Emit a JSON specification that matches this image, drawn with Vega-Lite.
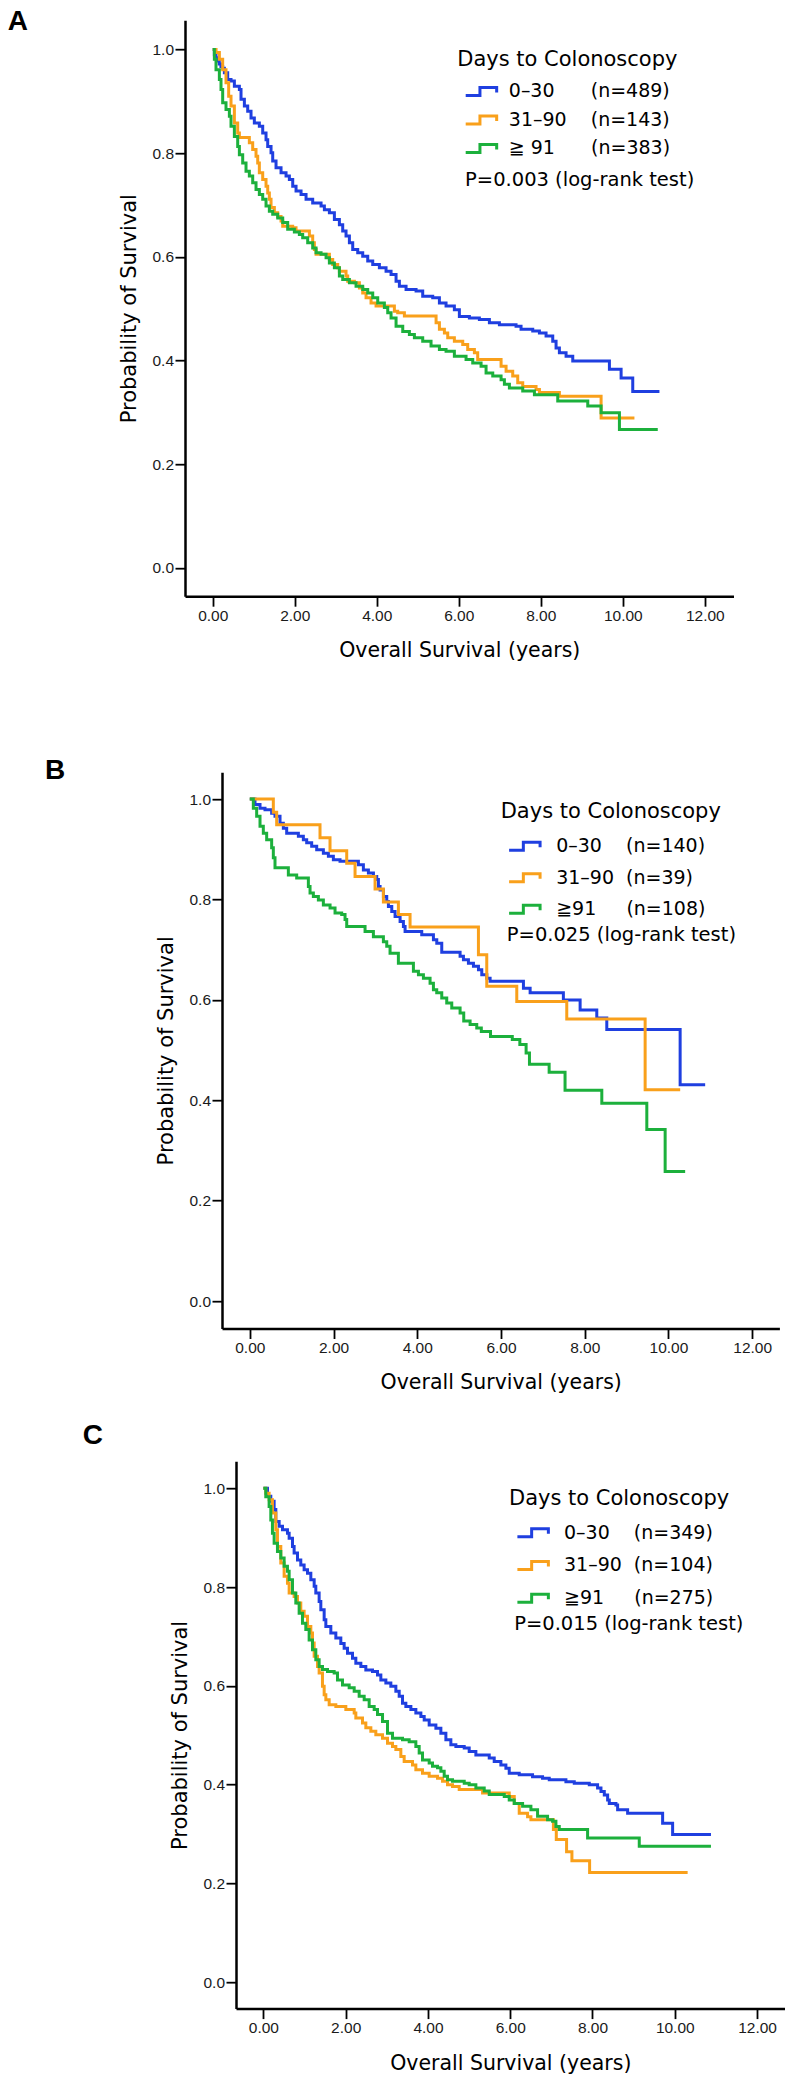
{
  "$schema": "https://vega.github.io/schema/vega-lite/v6.json",
  "padding": {"left": 0, "top": 7.2, "right": 0, "bottom": 0},
  "background": "white",
  "spacing": 0,
  "resolve": {"scale": {"color": "independent"}, "legend": {"color": "independent"}},
  "config": {
    "view": {"stroke": null},
    "concat": {"spacing": 0},
    "axis": {"grid": false, "domainColor": "#000", "domainWidth": 2.5, "tickColor": "#000", "tickWidth": 1.8, "tickSize": 10, "labelFont": "Liberation Sans", "labelFontSize": 15.5, "labelColor": "#1a1a1a", "titleFont": "DejaVu Sans", "titleFontWeight": "normal", "titleColor": "#000", "labelFlush": false, "labelOverlap": false},
    "axisX": {"labelPadding": 2, "titleFontSize": 20.5, "titlePadding": 17},
    "axisY": {"labelPadding": 1.5, "titleFontSize": 21, "titlePadding": 12},
    "legend": {"orient": "none", "direction": "vertical", "padding": 0, "titleFont": "DejaVu Sans", "titleFontSize": 21, "titleFontWeight": "normal", "titleColor": "#000", "labelFont": "DejaVu Sans", "labelFontSize": 19, "labelColor": "#000", "labelLimit": 400, "titleLimit": 400, "symbolType": "M-0.343,0.38H1.014V-0.38H2.607V0.1", "symbolSize": 441, "symbolStrokeWidth": 3, "symbolFillColor": "transparent"}
  },
  "datasets": {
    "A": [
      {"g":"0–30","t":0,"s":1},{"g":"0–30","t":0.04,"s":0.99},{"g":"0–30","t":0.08,"s":0.984},{"g":"0–30","t":0.12,"s":0.978},{"g":"0–30","t":0.16,"s":0.972},{"g":"0–30","t":0.2,"s":0.967},{"g":"0–30","t":0.243,"s":0.964},{"g":"0–30","t":0.284,"s":0.955},{"g":"0–30","t":0.365,"s":0.942},{"g":"0–30","t":0.446,"s":0.939},{"g":"0–30","t":0.528,"s":0.929},{"g":"0–30","t":0.65,"s":0.923},{"g":"0–30","t":0.69,"s":0.904},{"g":"0–30","t":0.772,"s":0.891},{"g":"0–30","t":0.853,"s":0.881},{"g":"0–30","t":0.934,"s":0.868},{"g":"0–30","t":1.015,"s":0.858},{"g":"0–30","t":1.137,"s":0.852},{"g":"0–30","t":1.219,"s":0.839},{"g":"0–30","t":1.3,"s":0.826},{"g":"0–30","t":1.341,"s":0.813},{"g":"0–30","t":1.422,"s":0.801},{"g":"0–30","t":1.463,"s":0.785},{"g":"0–30","t":1.544,"s":0.772},{"g":"0–30","t":1.666,"s":0.762},{"g":"0–30","t":1.788,"s":0.756},{"g":"0–30","t":1.869,"s":0.749},{"g":"0–30","t":1.951,"s":0.736},{"g":"0–30","t":2.032,"s":0.727},{"g":"0–30","t":2.154,"s":0.72},{"g":"0–30","t":2.276,"s":0.711},{"g":"0–30","t":2.438,"s":0.704},{"g":"0–30","t":2.642,"s":0.698},{"g":"0–30","t":2.723,"s":0.691},{"g":"0–30","t":2.845,"s":0.685},{"g":"0–30","t":2.967,"s":0.672},{"g":"0–30","t":3.089,"s":0.662},{"g":"0–30","t":3.17,"s":0.65},{"g":"0–30","t":3.251,"s":0.64},{"g":"0–30","t":3.333,"s":0.627},{"g":"0–30","t":3.414,"s":0.614},{"g":"0–30","t":3.536,"s":0.608},{"g":"0–30","t":3.658,"s":0.601},{"g":"0–30","t":3.78,"s":0.592},{"g":"0–30","t":3.902,"s":0.585},{"g":"0–30","t":4.064,"s":0.579},{"g":"0–30","t":4.227,"s":0.572},{"g":"0–30","t":4.349,"s":0.566},{"g":"0–30","t":4.471,"s":0.553},{"g":"0–30","t":4.552,"s":0.543},{"g":"0–30","t":4.715,"s":0.537},{"g":"0–30","t":4.959,"s":0.534},{"g":"0–30","t":5.121,"s":0.524},{"g":"0–30","t":5.365,"s":0.521},{"g":"0–30","t":5.528,"s":0.511},{"g":"0–30","t":5.69,"s":0.505},{"g":"0–30","t":5.893,"s":0.498},{"g":"0–30","t":6.015,"s":0.485},{"g":"0–30","t":6.259,"s":0.482},{"g":"0–30","t":6.503,"s":0.479},{"g":"0–30","t":6.747,"s":0.473},{"g":"0–30","t":6.991,"s":0.469},{"g":"0–30","t":7.397,"s":0.466},{"g":"0–30","t":7.519,"s":0.46},{"g":"0–30","t":7.804,"s":0.457},{"g":"0–30","t":7.967,"s":0.453},{"g":"0–30","t":8.129,"s":0.447},{"g":"0–30","t":8.292,"s":0.437},{"g":"0–30","t":8.373,"s":0.424},{"g":"0–30","t":8.454,"s":0.415},{"g":"0–30","t":8.617,"s":0.408},{"g":"0–30","t":8.78,"s":0.399},{"g":"0–30","t":9.674,"s":0.383},{"g":"0–30","t":9.959,"s":0.366},{"g":"0–30","t":10.243,"s":0.34},{"g":"0–30","t":10.894,"s":0.34},
      {"g":"31–90","t":0,"s":1},{"g":"31–90","t":0.081,"s":0.994},{"g":"31–90","t":0.162,"s":0.981},{"g":"31–90","t":0.243,"s":0.961},{"g":"31–90","t":0.324,"s":0.936},{"g":"31–90","t":0.389,"s":0.91},{"g":"31–90","t":0.446,"s":0.891},{"g":"31–90","t":0.528,"s":0.858},{"g":"31–90","t":0.609,"s":0.839},{"g":"31–90","t":0.65,"s":0.83},{"g":"31–90","t":0.893,"s":0.82},{"g":"31–90","t":0.975,"s":0.807},{"g":"31–90","t":1.056,"s":0.794},{"g":"31–90","t":1.097,"s":0.781},{"g":"31–90","t":1.137,"s":0.762},{"g":"31–90","t":1.219,"s":0.749},{"g":"31–90","t":1.3,"s":0.736},{"g":"31–90","t":1.341,"s":0.723},{"g":"31–90","t":1.381,"s":0.711},{"g":"31–90","t":1.422,"s":0.695},{"g":"31–90","t":1.503,"s":0.685},{"g":"31–90","t":1.585,"s":0.678},{"g":"31–90","t":1.666,"s":0.669},{"g":"31–90","t":1.707,"s":0.659},{"g":"31–90","t":1.95,"s":0.656},{"g":"31–90","t":2.032,"s":0.65},{"g":"31–90","t":2.357,"s":0.64},{"g":"31–90","t":2.438,"s":0.627},{"g":"31–90","t":2.479,"s":0.614},{"g":"31–90","t":2.52,"s":0.605},{"g":"31–90","t":2.845,"s":0.595},{"g":"31–90","t":2.926,"s":0.585},{"g":"31–90","t":3.048,"s":0.579},{"g":"31–90","t":3.089,"s":0.572},{"g":"31–90","t":3.251,"s":0.563},{"g":"31–90","t":3.292,"s":0.553},{"g":"31–90","t":3.455,"s":0.55},{"g":"31–90","t":3.577,"s":0.54},{"g":"31–90","t":3.658,"s":0.53},{"g":"31–90","t":3.739,"s":0.521},{"g":"31–90","t":3.861,"s":0.511},{"g":"31–90","t":3.983,"s":0.505},{"g":"31–90","t":4.43,"s":0.495},{"g":"31–90","t":4.511,"s":0.492},{"g":"31–90","t":4.674,"s":0.486},{"g":"31–90","t":5.447,"s":0.473},{"g":"31–90","t":5.528,"s":0.46},{"g":"31–90","t":5.65,"s":0.453},{"g":"31–90","t":5.731,"s":0.444},{"g":"31–90","t":5.893,"s":0.437},{"g":"31–90","t":6.097,"s":0.431},{"g":"31–90","t":6.218,"s":0.421},{"g":"31–90","t":6.381,"s":0.415},{"g":"31–90","t":6.462,"s":0.402},{"g":"31–90","t":7.032,"s":0.389},{"g":"31–90","t":7.154,"s":0.379},{"g":"31–90","t":7.316,"s":0.37},{"g":"31–90","t":7.438,"s":0.357},{"g":"31–90","t":7.56,"s":0.35},{"g":"31–90","t":7.885,"s":0.344},{"g":"31–90","t":7.967,"s":0.338},{"g":"31–90","t":8.454,"s":0.331},{"g":"31–90","t":9.471,"s":0.289},{"g":"31–90","t":10.284,"s":0.289},
      {"g":"≧91","t":0,"s":1},{"g":"≧91","t":0.04,"s":0.981},{"g":"≧91","t":0.08,"s":0.961},{"g":"≧91","t":0.162,"s":0.942},{"g":"≧91","t":0.202,"s":0.923},{"g":"≧91","t":0.243,"s":0.897},{"g":"≧91","t":0.324,"s":0.884},{"g":"≧91","t":0.406,"s":0.871},{"g":"≧91","t":0.446,"s":0.852},{"g":"≧91","t":0.528,"s":0.832},{"g":"≧91","t":0.609,"s":0.813},{"g":"≧91","t":0.65,"s":0.797},{"g":"≧91","t":0.731,"s":0.781},{"g":"≧91","t":0.812,"s":0.765},{"g":"≧91","t":0.893,"s":0.756},{"g":"≧91","t":0.975,"s":0.743},{"g":"≧91","t":1.056,"s":0.73},{"g":"≧91","t":1.137,"s":0.72},{"g":"≧91","t":1.219,"s":0.711},{"g":"≧91","t":1.3,"s":0.698},{"g":"≧91","t":1.381,"s":0.688},{"g":"≧91","t":1.463,"s":0.682},{"g":"≧91","t":1.585,"s":0.675},{"g":"≧91","t":1.707,"s":0.666},{"g":"≧91","t":1.828,"s":0.653},{"g":"≧91","t":1.991,"s":0.648},{"g":"≧91","t":2.113,"s":0.643},{"g":"≧91","t":2.194,"s":0.637},{"g":"≧91","t":2.316,"s":0.627},{"g":"≧91","t":2.438,"s":0.617},{"g":"≧91","t":2.52,"s":0.608},{"g":"≧91","t":2.642,"s":0.605},{"g":"≧91","t":2.764,"s":0.598},{"g":"≧91","t":2.845,"s":0.588},{"g":"≧91","t":2.967,"s":0.579},{"g":"≧91","t":3.089,"s":0.563},{"g":"≧91","t":3.17,"s":0.556},{"g":"≧91","t":3.333,"s":0.55},{"g":"≧91","t":3.495,"s":0.543},{"g":"≧91","t":3.658,"s":0.537},{"g":"≧91","t":3.78,"s":0.53},{"g":"≧91","t":3.902,"s":0.521},{"g":"≧91","t":4.024,"s":0.511},{"g":"≧91","t":4.186,"s":0.502},{"g":"≧91","t":4.268,"s":0.492},{"g":"≧91","t":4.349,"s":0.482},{"g":"≧91","t":4.471,"s":0.466},{"g":"≧91","t":4.634,"s":0.456},{"g":"≧91","t":4.796,"s":0.45},{"g":"≧91","t":4.918,"s":0.444},{"g":"≧91","t":5.121,"s":0.437},{"g":"≧91","t":5.324,"s":0.428},{"g":"≧91","t":5.528,"s":0.421},{"g":"≧91","t":5.69,"s":0.418},{"g":"≧91","t":5.893,"s":0.408},{"g":"≧91","t":6.178,"s":0.402},{"g":"≧91","t":6.341,"s":0.395},{"g":"≧91","t":6.544,"s":0.389},{"g":"≧91","t":6.666,"s":0.376},{"g":"≧91","t":6.829,"s":0.37},{"g":"≧91","t":7.032,"s":0.363},{"g":"≧91","t":7.113,"s":0.354},{"g":"≧91","t":7.235,"s":0.347},{"g":"≧91","t":7.56,"s":0.341},{"g":"≧91","t":7.845,"s":0.334},{"g":"≧91","t":8.414,"s":0.322},{"g":"≧91","t":9.146,"s":0.312},{"g":"≧91","t":9.471,"s":0.299},{"g":"≧91","t":9.918,"s":0.267},{"g":"≧91","t":10.853,"s":0.267}
    ],
    "B": [
      {"g":"0–30","t":0,"s":1},{"g":"0–30","t":0.124,"s":0.989},{"g":"0–30","t":0.244,"s":0.982},{"g":"0–30","t":0.363,"s":0.979},{"g":"0–30","t":0.522,"s":0.972},{"g":"0–30","t":0.602,"s":0.966},{"g":"0–30","t":0.722,"s":0.952},{"g":"0–30","t":0.801,"s":0.942},{"g":"0–30","t":0.881,"s":0.932},{"g":"0–30","t":1.16,"s":0.926},{"g":"0–30","t":1.279,"s":0.919},{"g":"0–30","t":1.359,"s":0.913},{"g":"0–30","t":1.478,"s":0.906},{"g":"0–30","t":1.598,"s":0.899},{"g":"0–30","t":1.757,"s":0.892},{"g":"0–30","t":1.877,"s":0.886},{"g":"0–30","t":1.996,"s":0.879},{"g":"0–30","t":2.155,"s":0.876},{"g":"0–30","t":2.594,"s":0.869},{"g":"0–30","t":2.713,"s":0.859},{"g":"0–30","t":2.833,"s":0.853},{"g":"0–30","t":2.953,"s":0.846},{"g":"0–30","t":3.032,"s":0.84},{"g":"0–30","t":3.072,"s":0.826},{"g":"0–30","t":3.112,"s":0.819},{"g":"0–30","t":3.192,"s":0.806},{"g":"0–30","t":3.271,"s":0.796},{"g":"0–30","t":3.311,"s":0.786},{"g":"0–30","t":3.391,"s":0.776},{"g":"0–30","t":3.47,"s":0.766},{"g":"0–30","t":3.59,"s":0.756},{"g":"0–30","t":3.669,"s":0.746},{"g":"0–30","t":3.709,"s":0.736},{"g":"0–30","t":4.107,"s":0.73},{"g":"0–30","t":4.386,"s":0.72},{"g":"0–30","t":4.466,"s":0.713},{"g":"0–30","t":4.585,"s":0.695},{"g":"0–30","t":5.023,"s":0.687},{"g":"0–30","t":5.103,"s":0.68},{"g":"0–30","t":5.222,"s":0.673},{"g":"0–30","t":5.342,"s":0.667},{"g":"0–30","t":5.462,"s":0.66},{"g":"0–30","t":5.541,"s":0.65},{"g":"0–30","t":5.661,"s":0.643},{"g":"0–30","t":5.74,"s":0.637},{"g":"0–30","t":6.536,"s":0.623},{"g":"0–30","t":6.696,"s":0.614},{"g":"0–30","t":7.49,"s":0.6},{"g":"0–30","t":7.89,"s":0.58},{"g":"0–30","t":8.288,"s":0.564},{"g":"0–30","t":8.527,"s":0.541},{"g":"0–30","t":10.279,"s":0.431},{"g":"0–30","t":10.877,"s":0.431},
      {"g":"31–90","t":0,"s":1},{"g":"31–90","t":0.562,"s":0.974},{"g":"31–90","t":0.642,"s":0.949},{"g":"31–90","t":1.677,"s":0.923},{"g":"31–90","t":1.916,"s":0.897},{"g":"31–90","t":2.315,"s":0.872},{"g":"31–90","t":2.514,"s":0.846},{"g":"31–90","t":2.992,"s":0.821},{"g":"31–90","t":3.191,"s":0.795},{"g":"31–90","t":3.549,"s":0.77},{"g":"31–90","t":3.828,"s":0.745},{"g":"31–90","t":5.461,"s":0.69},{"g":"31–90","t":5.66,"s":0.627},{"g":"31–90","t":6.377,"s":0.597},{"g":"31–90","t":7.571,"s":0.562},{"g":"31–90","t":9.443,"s":0.421},{"g":"31–90","t":10.28,"s":0.421},
      {"g":"≧91","t":0,"s":1},{"g":"≧91","t":0.084,"s":0.982},{"g":"≧91","t":0.164,"s":0.966},{"g":"≧91","t":0.244,"s":0.946},{"g":"≧91","t":0.323,"s":0.932},{"g":"≧91","t":0.403,"s":0.919},{"g":"≧91","t":0.522,"s":0.903},{"g":"≧91","t":0.562,"s":0.883},{"g":"≧91","t":0.602,"s":0.863},{"g":"≧91","t":0.921,"s":0.849},{"g":"≧91","t":1.12,"s":0.843},{"g":"≧91","t":1.399,"s":0.826},{"g":"≧91","t":1.439,"s":0.813},{"g":"≧91","t":1.518,"s":0.806},{"g":"≧91","t":1.638,"s":0.799},{"g":"≧91","t":1.757,"s":0.789},{"g":"≧91","t":1.917,"s":0.783},{"g":"≧91","t":2.036,"s":0.773},{"g":"≧91","t":2.195,"s":0.77},{"g":"≧91","t":2.275,"s":0.76},{"g":"≧91","t":2.315,"s":0.746},{"g":"≧91","t":2.753,"s":0.736},{"g":"≧91","t":2.952,"s":0.726},{"g":"≧91","t":3.191,"s":0.716},{"g":"≧91","t":3.271,"s":0.707},{"g":"≧91","t":3.35,"s":0.693},{"g":"≧91","t":3.549,"s":0.673},{"g":"≧91","t":3.908,"s":0.657},{"g":"≧91","t":4.028,"s":0.65},{"g":"≧91","t":4.147,"s":0.643},{"g":"≧91","t":4.306,"s":0.633},{"g":"≧91","t":4.386,"s":0.62},{"g":"≧91","t":4.465,"s":0.614},{"g":"≧91","t":4.585,"s":0.604},{"g":"≧91","t":4.704,"s":0.594},{"g":"≧91","t":4.824,"s":0.584},{"g":"≧91","t":5.023,"s":0.574},{"g":"≧91","t":5.11,"s":0.558},{"g":"≧91","t":5.262,"s":0.551},{"g":"≧91","t":5.421,"s":0.544},{"g":"≧91","t":5.53,"s":0.537},{"g":"≧91","t":5.75,"s":0.527},{"g":"≧91","t":6.27,"s":0.521},{"g":"≧91","t":6.45,"s":0.511},{"g":"≧91","t":6.6,"s":0.494},{"g":"≧91","t":6.68,"s":0.472},{"g":"≧91","t":7.15,"s":0.456},{"g":"≧91","t":7.53,"s":0.42},{"g":"≧91","t":8.408,"s":0.394},{"g":"≧91","t":9.483,"s":0.342},{"g":"≧91","t":9.921,"s":0.258},{"g":"≧91","t":10.399,"s":0.258}
    ],
    "C": [
      {"g":"0–30","t":0,"s":1},{"g":"0–30","t":0.099,"s":0.984},{"g":"0–30","t":0.18,"s":0.974},{"g":"0–30","t":0.261,"s":0.957},{"g":"0–30","t":0.302,"s":0.933},{"g":"0–30","t":0.383,"s":0.923},{"g":"0–30","t":0.464,"s":0.916},{"g":"0–30","t":0.585,"s":0.909},{"g":"0–30","t":0.626,"s":0.899},{"g":"0–30","t":0.707,"s":0.882},{"g":"0–30","t":0.747,"s":0.869},{"g":"0–30","t":0.829,"s":0.855},{"g":"0–30","t":0.909,"s":0.845},{"g":"0–30","t":0.99,"s":0.835},{"g":"0–30","t":1.072,"s":0.828},{"g":"0–30","t":1.153,"s":0.815},{"g":"0–30","t":1.234,"s":0.802},{"g":"0–30","t":1.274,"s":0.788},{"g":"0–30","t":1.355,"s":0.771},{"g":"0–30","t":1.396,"s":0.754},{"g":"0–30","t":1.477,"s":0.734},{"g":"0–30","t":1.518,"s":0.72},{"g":"0–30","t":1.639,"s":0.707},{"g":"0–30","t":1.761,"s":0.697},{"g":"0–30","t":1.882,"s":0.686},{"g":"0–30","t":1.963,"s":0.676},{"g":"0–30","t":2.044,"s":0.666},{"g":"0–30","t":2.166,"s":0.656},{"g":"0–30","t":2.247,"s":0.646},{"g":"0–30","t":2.369,"s":0.639},{"g":"0–30","t":2.49,"s":0.632},{"g":"0–30","t":2.652,"s":0.629},{"g":"0–30","t":2.774,"s":0.622},{"g":"0–30","t":2.855,"s":0.612},{"g":"0–30","t":2.977,"s":0.606},{"g":"0–30","t":3.098,"s":0.599},{"g":"0–30","t":3.22,"s":0.589},{"g":"0–30","t":3.301,"s":0.579},{"g":"0–30","t":3.382,"s":0.565},{"g":"0–30","t":3.463,"s":0.558},{"g":"0–30","t":3.585,"s":0.552},{"g":"0–30","t":3.706,"s":0.545},{"g":"0–30","t":3.828,"s":0.538},{"g":"0–30","t":3.909,"s":0.531},{"g":"0–30","t":4.03,"s":0.521},{"g":"0–30","t":4.193,"s":0.514},{"g":"0–30","t":4.314,"s":0.504},{"g":"0–30","t":4.436,"s":0.491},{"g":"0–30","t":4.557,"s":0.481},{"g":"0–30","t":4.679,"s":0.477},{"g":"0–30","t":4.882,"s":0.474},{"g":"0–30","t":5.003,"s":0.467},{"g":"0–30","t":5.165,"s":0.46},{"g":"0–30","t":5.49,"s":0.454},{"g":"0–30","t":5.611,"s":0.447},{"g":"0–30","t":5.773,"s":0.44},{"g":"0–30","t":5.895,"s":0.433},{"g":"0–30","t":5.976,"s":0.423},{"g":"0–30","t":6.219,"s":0.42},{"g":"0–30","t":6.543,"s":0.416},{"g":"0–30","t":6.786,"s":0.413},{"g":"0–30","t":6.949,"s":0.41},{"g":"0–30","t":7.354,"s":0.406},{"g":"0–30","t":7.557,"s":0.403},{"g":"0–30","t":7.922,"s":0.4},{"g":"0–30","t":8.124,"s":0.393},{"g":"0–30","t":8.206,"s":0.386},{"g":"0–30","t":8.287,"s":0.379},{"g":"0–30","t":8.368,"s":0.369},{"g":"0–30","t":8.408,"s":0.362},{"g":"0–30","t":8.57,"s":0.359},{"g":"0–30","t":8.611,"s":0.349},{"g":"0–30","t":8.854,"s":0.342},{"g":"0–30","t":9.705,"s":0.322},{"g":"0–30","t":9.948,"s":0.299},{"g":"0–30","t":10.88,"s":0.299},
      {"g":"31–90","t":0,"s":1},{"g":"31–90","t":0.058,"s":0.99},{"g":"31–90","t":0.139,"s":0.977},{"g":"31–90","t":0.22,"s":0.95},{"g":"31–90","t":0.302,"s":0.916},{"g":"31–90","t":0.342,"s":0.882},{"g":"31–90","t":0.423,"s":0.849},{"g":"31–90","t":0.504,"s":0.822},{"g":"31–90","t":0.585,"s":0.808},{"g":"31–90","t":0.626,"s":0.788},{"g":"31–90","t":0.747,"s":0.781},{"g":"31–90","t":0.829,"s":0.768},{"g":"31–90","t":0.909,"s":0.751},{"g":"31–90","t":0.99,"s":0.741},{"g":"31–90","t":1.072,"s":0.72},{"g":"31–90","t":1.153,"s":0.707},{"g":"31–90","t":1.193,"s":0.687},{"g":"31–90","t":1.234,"s":0.66},{"g":"31–90","t":1.315,"s":0.639},{"g":"31–90","t":1.355,"s":0.626},{"g":"31–90","t":1.436,"s":0.599},{"g":"31–90","t":1.477,"s":0.582},{"g":"31–90","t":1.518,"s":0.572},{"g":"31–90","t":1.599,"s":0.562},{"g":"31–90","t":1.761,"s":0.558},{"g":"31–90","t":2.004,"s":0.552},{"g":"31–90","t":2.207,"s":0.545},{"g":"31–90","t":2.247,"s":0.535},{"g":"31–90","t":2.409,"s":0.525},{"g":"31–90","t":2.49,"s":0.515},{"g":"31–90","t":2.612,"s":0.508},{"g":"31–90","t":2.733,"s":0.501},{"g":"31–90","t":2.896,"s":0.494},{"g":"31–90","t":3.017,"s":0.484},{"g":"31–90","t":3.139,"s":0.477},{"g":"31–90","t":3.22,"s":0.471},{"g":"31–90","t":3.341,"s":0.457},{"g":"31–90","t":3.422,"s":0.447},{"g":"31–90","t":3.625,"s":0.44},{"g":"31–90","t":3.706,"s":0.43},{"g":"31–90","t":3.868,"s":0.423},{"g":"31–90","t":4.03,"s":0.417},{"g":"31–90","t":4.233,"s":0.413},{"g":"31–90","t":4.355,"s":0.407},{"g":"31–90","t":4.476,"s":0.4},{"g":"31–90","t":4.598,"s":0.396},{"g":"31–90","t":4.76,"s":0.39},{"g":"31–90","t":5.328,"s":0.383},{"g":"31–90","t":5.976,"s":0.376},{"g":"31–90","t":6.098,"s":0.362},{"g":"31–90","t":6.219,"s":0.342},{"g":"31–90","t":6.422,"s":0.335},{"g":"31–90","t":6.503,"s":0.329},{"g":"31–90","t":7.05,"s":0.309},{"g":"31–90","t":7.12,"s":0.289},{"g":"31–90","t":7.37,"s":0.264},{"g":"31–90","t":7.5,"s":0.246},{"g":"31–90","t":7.93,"s":0.222},{"g":"31–90","t":10.313,"s":0.222},
      {"g":"≧91","t":0,"s":1},{"g":"≧91","t":0.058,"s":0.983},{"g":"≧91","t":0.139,"s":0.963},{"g":"≧91","t":0.18,"s":0.936},{"g":"≧91","t":0.22,"s":0.909},{"g":"≧91","t":0.261,"s":0.889},{"g":"≧91","t":0.342,"s":0.872},{"g":"≧91","t":0.423,"s":0.859},{"g":"≧91","t":0.504,"s":0.842},{"g":"≧91","t":0.585,"s":0.832},{"g":"≧91","t":0.626,"s":0.815},{"g":"≧91","t":0.707,"s":0.788},{"g":"≧91","t":0.788,"s":0.768},{"g":"≧91","t":0.869,"s":0.747},{"g":"≧91","t":0.95,"s":0.727},{"g":"≧91","t":1.031,"s":0.714},{"g":"≧91","t":1.112,"s":0.693},{"g":"≧91","t":1.193,"s":0.673},{"g":"≧91","t":1.274,"s":0.653},{"g":"≧91","t":1.355,"s":0.639},{"g":"≧91","t":1.436,"s":0.633},{"g":"≧91","t":1.558,"s":0.629},{"g":"≧91","t":1.72,"s":0.626},{"g":"≧91","t":1.801,"s":0.612},{"g":"≧91","t":1.923,"s":0.602},{"g":"≧91","t":2.085,"s":0.596},{"g":"≧91","t":2.207,"s":0.589},{"g":"≧91","t":2.328,"s":0.579},{"g":"≧91","t":2.45,"s":0.572},{"g":"≧91","t":2.571,"s":0.558},{"g":"≧91","t":2.693,"s":0.552},{"g":"≧91","t":2.774,"s":0.542},{"g":"≧91","t":2.896,"s":0.528},{"g":"≧91","t":3.017,"s":0.504},{"g":"≧91","t":3.139,"s":0.494},{"g":"≧91","t":3.382,"s":0.491},{"g":"≧91","t":3.544,"s":0.487},{"g":"≧91","t":3.706,"s":0.477},{"g":"≧91","t":3.787,"s":0.464},{"g":"≧91","t":3.868,"s":0.45},{"g":"≧91","t":4.03,"s":0.444},{"g":"≧91","t":4.111,"s":0.437},{"g":"≧91","t":4.233,"s":0.434},{"g":"≧91","t":4.314,"s":0.427},{"g":"≧91","t":4.395,"s":0.417},{"g":"≧91","t":4.476,"s":0.41},{"g":"≧91","t":4.598,"s":0.407},{"g":"≧91","t":4.882,"s":0.403},{"g":"≧91","t":5.003,"s":0.4},{"g":"≧91","t":5.165,"s":0.393},{"g":"≧91","t":5.368,"s":0.387},{"g":"≧91","t":5.49,"s":0.38},{"g":"≧91","t":5.855,"s":0.376},{"g":"≧91","t":5.976,"s":0.369},{"g":"≧91","t":6.098,"s":0.362},{"g":"≧91","t":6.301,"s":0.356},{"g":"≧91","t":6.503,"s":0.349},{"g":"≧91","t":6.665,"s":0.336},{"g":"≧91","t":6.908,"s":0.329},{"g":"≧91","t":7.03,"s":0.326},{"g":"≧91","t":7.111,"s":0.315},{"g":"≧91","t":7.192,"s":0.309},{"g":"≧91","t":7.881,"s":0.292},{"g":"≧91","t":9.137,"s":0.275},{"g":"≧91","t":10.88,"s":0.275}
    ]
  },
  "vconcat": [
    {
      "spacing": 0,
      "hconcat": [
        {"width": 6.7, "height": 735.3, "data": {"values": []}, "mark": "point", "encoding": {}},
        {
          "width": 548.5, "height": 576,
          "title": {"text": "A", "anchor": "start", "frame": "group", "orient": "top", "align": "left", "baseline": "alphabetic", "dx": -177.3, "offset": -37.85, "font": "Liberation Sans", "fontSize": 28, "fontWeight": "bold", "color": "#000"},
          "layer": [
            {
              "data": {"name": "A"},
              "mark": {"type": "line", "interpolate": "step-after", "strokeWidth": 3},
              "encoding": {
                "x": {"field": "t", "type": "quantitative", "title": "Overall Survival (years)", "scale": {"domain": [-0.676, 12.7], "nice": false, "zero": false}, "axis": {"values": [0, 2, 4, 6, 8, 10, 12], "format": ".2f"}},
                "y": {"field": "s", "type": "quantitative", "title": "Probability of Survival", "scale": {"domain": [-0.0548, 1.0565], "nice": false, "zero": false}, "axis": {"values": [0, 0.2, 0.4, 0.6, 0.8, 1.0], "format": ".1f"}},
                "color": {"field": "g", "type": "nominal", "scale": {"domain": ["0–30", "31–90", "≧91"], "range": ["#1f3fe0", "#f9a01b", "#1cb03c"]},
                  "legend": {"title": "Days to Colonoscopy", "legendX": 457.3, "legendY": 29, "titlePadding": 9.3, "rowPadding": 6.5, "labelOffset": 27.5,
                    "labelExpr": "datum.label == '0–30' ? '0–30\u00a0\u00a0\u00a0\u00a0\u00a0\u00a0(n=489)' : datum.label == '31–90' ? '31–90\u00a0\u00a0\u00a0\u00a0(n=143)' : '≧ 91\u00a0\u00a0\u00a0\u00a0\u00a0\u00a0(n=383)'"}}
              }
            },
            {
              "data": {"values": [{"p": "P=0.003 (log-rank test)"}]},
              "mark": {"type": "text", "align": "left", "baseline": "alphabetic", "font": "DejaVu Sans", "fontSize": 19.5, "color": "#000"},
              "encoding": {"x": {"datum": 6.154, "type": "quantitative"}, "y": {"datum": 0.736, "type": "quantitative"}, "text": {"field": "p"}}
            }
          ]
        }
      ]
    },
    {
      "spacing": 0,
      "hconcat": [
        {"width": 45, "height": 648.5, "data": {"values": []}, "mark": "point", "encoding": {}},
        {
          "width": 557.4, "height": 556.3,
          "title": {"text": "B", "anchor": "start", "frame": "group", "orient": "top", "align": "left", "baseline": "alphabetic", "dx": -177, "offset": -34.85, "font": "Liberation Sans", "fontSize": 28, "fontWeight": "bold", "color": "#000"},
          "layer": [
            {
              "data": {"name": "B"},
              "mark": {"type": "line", "interpolate": "step-after", "strokeWidth": 3},
              "encoding": {
                "x": {"field": "t", "type": "quantitative", "title": "Overall Survival (years)", "scale": {"domain": [-0.664, 12.65], "nice": false, "zero": false}, "axis": {"values": [0, 2, 4, 6, 8, 10, 12], "format": ".2f"}},
                "y": {"field": "s", "type": "quantitative", "title": "Probability of Survival", "scale": {"domain": [-0.0546, 1.0536], "nice": false, "zero": false}, "axis": {"values": [0, 0.2, 0.4, 0.6, 0.8, 1.0], "format": ".1f"}},
                "color": {"field": "g", "type": "nominal", "scale": {"domain": ["0–30", "31–90", "≧91"], "range": ["#1f3fe0", "#f9a01b", "#1cb03c"]},
                  "legend": {"title": "Days to Colonoscopy", "legendX": 500.7, "legendY": 29.2, "titlePadding": 11.8, "rowPadding": 9.5, "labelOffset": 31.5,
                    "labelExpr": "datum.label == '0–30' ? '0–30\u00a0\u00a0\u00a0\u00a0(n=140)' : datum.label == '31–90' ? '31–90\u00a0\u00a0(n=39)' : '≧91\u00a0\u00a0\u00a0\u00a0\u00a0(n=108)'"}}
              }
            },
            {
              "data": {"values": [{"p": "P=0.025 (log-rank test)"}]},
              "mark": {"type": "text", "align": "left", "baseline": "alphabetic", "font": "DejaVu Sans", "fontSize": 19.5, "color": "#000"},
              "encoding": {"x": {"datum": 6.139, "type": "quantitative"}, "y": {"datum": 0.7165, "type": "quantitative"}, "text": {"field": "p"}}
            }
          ]
        }
      ]
    },
    {
      "spacing": 0,
      "hconcat": [
        {"width": 82, "height": 100, "data": {"values": []}, "mark": "point", "encoding": {}},
        {
          "width": 548.6, "height": 547.4,
          "title": {"text": "C", "anchor": "start", "frame": "group", "orient": "top", "align": "left", "baseline": "alphabetic", "dx": -153.2, "offset": -10.95, "font": "Liberation Sans", "fontSize": 28, "fontWeight": "bold", "color": "#000"},
          "layer": [
            {
              "data": {"name": "C"},
              "mark": {"type": "line", "interpolate": "step-after", "strokeWidth": 3},
              "encoding": {
                "x": {"field": "t", "type": "quantitative", "title": "Overall Survival (years)", "scale": {"domain": [-0.666, 12.67], "nice": false, "zero": false}, "axis": {"values": [0, 2, 4, 6, 8, 10, 12], "format": ".2f"}},
                "y": {"field": "s", "type": "quantitative", "title": "Probability of Survival", "scale": {"domain": [-0.0535, 1.055], "nice": false, "zero": false}, "axis": {"values": [0, 0.2, 0.4, 0.6, 0.8, 1.0], "format": ".1f"}},
                "color": {"field": "g", "type": "nominal", "scale": {"domain": ["0–30", "31–90", "≧91"], "range": ["#1f3fe0", "#f9a01b", "#1cb03c"]},
                  "legend": {"title": "Days to Colonoscopy", "legendX": 509, "legendY": 27, "titlePadding": 11.6, "rowPadding": 10.7, "labelOffset": 31,
                    "labelExpr": "datum.label == '0–30' ? '0–30\u00a0\u00a0\u00a0\u00a0(n=349)' : datum.label == '31–90' ? '31–90\u00a0\u00a0(n=104)' : '≧91\u00a0\u00a0\u00a0\u00a0\u00a0(n=275)'"}}
              }
            },
            {
              "data": {"values": [{"p": "P=0.015 (log-rank test)"}]},
              "mark": {"type": "text", "align": "left", "baseline": "alphabetic", "font": "DejaVu Sans", "fontSize": 19.5, "color": "#000"},
              "encoding": {"x": {"datum": 6.097, "type": "quantitative"}, "y": {"datum": 0.7137, "type": "quantitative"}, "text": {"field": "p"}}
            }
          ]
        }
      ]
    }
  ]
}
